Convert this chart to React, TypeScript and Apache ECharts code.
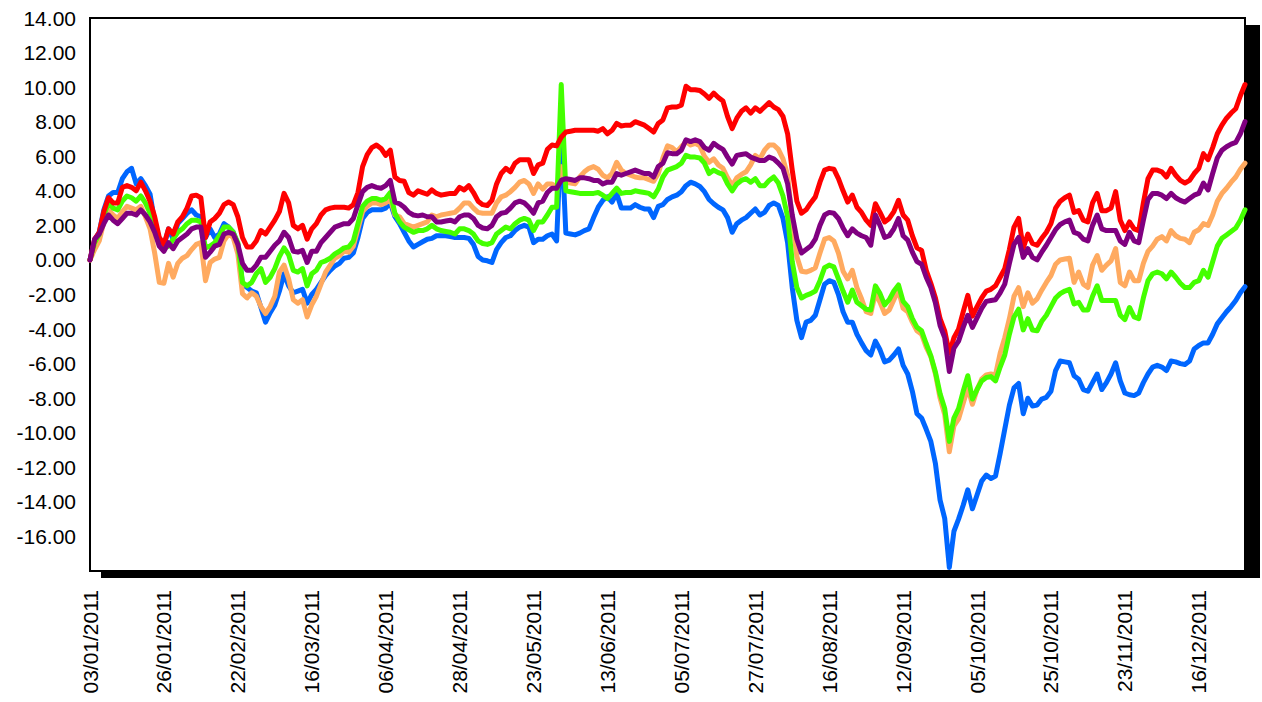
import React, { useEffect, useRef } from "react";
import * as echarts from "echarts";

const categories = [
  "03/01/2011","04/01/2011","05/01/2011","06/01/2011","07/01/2011","10/01/2011","11/01/2011","12/01/2011","13/01/2011","14/01/2011","18/01/2011","19/01/2011","20/01/2011","21/01/2011","24/01/2011","25/01/2011",
  "26/01/2011","27/01/2011","28/01/2011","31/01/2011","01/02/2011","02/02/2011","07/02/2011","08/02/2011","09/02/2011","10/02/2011","11/02/2011","14/02/2011","15/02/2011","16/02/2011","17/02/2011","18/02/2011",
  "22/02/2011","23/02/2011","24/02/2011","25/02/2011","28/02/2011","01/03/2011","02/03/2011","03/03/2011","04/03/2011","07/03/2011","08/03/2011","09/03/2011","10/03/2011","11/03/2011","14/03/2011","15/03/2011",
  "16/03/2011","17/03/2011","18/03/2011","21/03/2011","22/03/2011","23/03/2011","24/03/2011","25/03/2011","28/03/2011","29/03/2011","30/03/2011","31/03/2011","01/04/2011","02/04/2011","04/04/2011","05/04/2011",
  "06/04/2011","07/04/2011","08/04/2011","11/04/2011","12/04/2011","13/04/2011","14/04/2011","15/04/2011","18/04/2011","19/04/2011","20/04/2011","21/04/2011","22/04/2011","25/04/2011","26/04/2011","27/04/2011",
  "28/04/2011","29/04/2011","03/05/2011","04/05/2011","05/05/2011","06/05/2011","09/05/2011","10/05/2011","11/05/2011","12/05/2011","13/05/2011","16/05/2011","17/05/2011","18/05/2011","19/05/2011","20/05/2011",
  "23/05/2011","24/05/2011","25/05/2011","26/05/2011","27/05/2011","28/05/2011","30/05/2011","31/05/2011","01/06/2011","02/06/2011","03/06/2011","06/06/2011","07/06/2011","08/06/2011","09/06/2011","10/06/2011",
  "13/06/2011","14/06/2011","15/06/2011","16/06/2011","17/06/2011","20/06/2011","21/06/2011","22/06/2011","23/06/2011","24/06/2011","27/06/2011","28/06/2011","29/06/2011","30/06/2011","01/07/2011","04/07/2011",
  "05/07/2011","06/07/2011","07/07/2011","08/07/2011","11/07/2011","12/07/2011","13/07/2011","14/07/2011","15/07/2011","18/07/2011","19/07/2011","20/07/2011","21/07/2011","22/07/2011","25/07/2011","26/07/2011",
  "27/07/2011","28/07/2011","29/07/2011","30/07/2011","01/08/2011","02/08/2011","03/08/2011","04/08/2011","05/08/2011","06/08/2011","08/08/2011","09/08/2011","10/08/2011","11/08/2011","12/08/2011","15/08/2011",
  "16/08/2011","17/08/2011","18/08/2011","19/08/2011","22/08/2011","23/08/2011","24/08/2011","25/08/2011","30/08/2011","31/08/2011","01/09/2011","02/09/2011","06/09/2011","07/09/2011","08/09/2011","09/09/2011",
  "12/09/2011","13/09/2011","14/09/2011","15/09/2011","16/09/2011","19/09/2011","20/09/2011","21/09/2011","22/09/2011","23/09/2011","26/09/2011","27/09/2011","28/09/2011","29/09/2011","30/09/2011","04/10/2011",
  "05/10/2011","06/10/2011","07/10/2011","08/10/2011","10/10/2011","11/10/2011","12/10/2011","13/10/2011","14/10/2011","15/10/2011","17/10/2011","18/10/2011","19/10/2011","20/10/2011","21/10/2011","24/10/2011",
  "25/10/2011","26/10/2011","27/10/2011","31/10/2011","01/11/2011","02/11/2011","03/11/2011","07/11/2011","08/11/2011","09/11/2011","10/11/2011","14/11/2011","15/11/2011","16/11/2011","17/11/2011","22/11/2011",
  "23/11/2011","25/11/2011","28/11/2011","29/11/2011","30/11/2011","01/12/2011","02/12/2011","05/12/2011","06/12/2011","07/12/2011","08/12/2011","09/12/2011","12/12/2011","13/12/2011","14/12/2011","15/12/2011",
  "16/12/2011","19/12/2011","20/12/2011","21/12/2011","22/12/2011","23/12/2011","26/12/2011","27/12/2011","28/12/2011","29/12/2011","30/12/2011"
];

const redValues = [
  0,1.2,1.6,2.8,3.6,3.3,3.3,4.2,4.3,4.2,
  4.0,4.5,4.0,3.4,2.5,1.3,0.9,1.8,1.5,2.2,
  2.5,3.0,3.7,3.75,3.6,1.3,2.2,2.4,2.7,3.2,
  3.35,3.2,2.5,1.3,0.75,0.75,1.1,1.7,1.5,1.9,
  2.3,2.8,3.85,3.3,2.0,1.8,2.0,1.2,1.8,2.1,
  2.6,2.9,3.0,3.05,3.05,3.05,3.0,3.2,3.9,5.4,
  6.1,6.5,6.65,6.45,6.05,6.35,4.8,4.6,4.55,3.9,
  3.75,4.0,3.9,3.8,4.05,3.85,3.75,3.8,3.85,3.85,
  4.2,4.05,4.3,3.9,3.4,3.2,3.15,3.45,4.4,5.0,
  5.3,5.1,5.6,5.8,5.8,5.8,5.0,5.5,5.6,6.4,
  6.65,6.6,7.1,7.4,7.45,7.5,7.5,7.5,7.5,7.5,
  7.45,7.6,7.3,7.5,7.9,7.75,7.8,7.8,8.0,7.9,
  7.8,7.6,7.4,7.9,8.1,8.8,8.85,8.85,8.95,10.05,
  9.85,9.85,9.8,9.6,9.35,9.65,9.4,9.2,8.3,7.6,
  8.2,8.6,8.8,8.5,8.8,8.6,8.85,9.1,8.85,8.7,
  8.3,7.3,5.2,3.4,2.7,2.9,3.3,3.65,4.5,5.2,
  5.3,5.25,4.7,4.0,3.35,3.75,3.05,2.75,2.3,2.0,
  3.25,2.75,2.2,2.4,2.8,3.45,2.6,2.3,1.4,0.7,
  0.55,-0.6,-1.35,-2.2,-3.4,-4.1,-5.4,-4.5,-4.0,-3.0,
  -2.05,-3.25,-2.7,-2.2,-1.8,-1.7,-1.5,-1.0,-0.5,0.6,
  1.9,2.4,0.7,1.5,0.95,0.85,1.25,1.6,2.1,3.0,
  3.4,3.6,3.75,2.75,2.85,2.3,2.2,3.3,3.85,2.85,
  2.85,3.0,3.95,2.3,1.7,2.2,1.8,1.7,3.3,4.7,
  5.2,5.2,5.1,4.8,5.3,4.9,4.6,4.45,4.6,5.0,
  5.3,6.15,5.8,6.5,7.3,7.8,8.2,8.5,8.75,9.5,
  10.15
];

const purpleValues = [
  0,1.2,1.5,2.1,2.6,2.3,2.1,2.4,2.7,2.7,
  2.6,2.9,2.6,2.2,1.6,0.8,0.5,1.0,0.65,1.1,
  1.3,1.5,1.8,1.9,1.9,0.15,0.45,0.8,0.9,1.5,
  1.6,1.5,0.9,-0.2,-0.6,-0.6,-0.3,0.15,0.15,0.5,
  0.85,1.1,1.6,1.3,0.5,0.45,0.55,-0.15,0.5,0.5,
  1.0,1.3,1.6,1.9,2.0,2.1,2.1,2.4,3.2,3.95,
  4.2,4.3,4.2,4.15,4.3,4.6,3.35,3.25,3.05,2.75,
  2.6,2.55,2.6,2.5,2.5,2.2,2.2,2.25,2.3,2.2,
  2.5,2.6,2.6,2.4,2.0,1.85,1.8,2.0,2.5,2.7,
  2.75,3.0,3.3,3.4,3.3,3.05,2.7,3.3,3.4,3.9,
  4.15,4.15,4.6,4.7,4.65,4.6,4.75,4.75,4.7,4.6,
  4.6,4.4,4.5,4.5,5.0,4.9,5.0,5.1,5.2,5.1,
  5.0,5.0,4.8,5.4,5.6,6.2,6.15,6.15,6.35,6.95,
  6.85,6.95,6.85,6.5,6.35,6.75,6.55,6.4,5.95,5.55,
  6.05,6.1,6.15,5.95,5.85,5.75,5.75,5.95,5.85,5.6,
  5.3,4.4,2.6,1.2,0.4,0.6,0.8,1.2,2.0,2.6,
  2.75,2.7,2.4,1.85,1.4,1.8,1.55,1.4,1.3,0.85,
  2.6,2.0,1.3,1.4,1.8,2.4,1.4,1.15,0.45,-0.1,
  -0.25,-1.0,-1.6,-2.5,-3.8,-4.5,-6.45,-5.1,-4.7,-3.9,
  -3.2,-3.9,-3.35,-2.8,-2.4,-2.35,-2.3,-1.9,-1.4,-0.2,
  0.9,1.3,0.15,0.65,0.15,0.0,0.45,0.85,1.3,1.75,
  2.05,2.2,2.3,1.6,1.5,1.2,1.1,2.0,2.6,1.8,
  1.7,1.7,1.7,1.1,0.9,1.6,1.1,1.0,2.3,3.5,
  3.85,3.85,3.75,3.55,3.85,3.6,3.45,3.35,3.55,3.75,
  3.85,4.45,4.05,5.0,5.9,6.35,6.55,6.7,6.8,7.3,
  8.0
];

const orangeValues = [
  0,0.6,1.1,2.2,2.9,2.6,2.4,2.8,3.1,3.0,
  2.9,3.1,2.5,1.8,0.4,-1.3,-1.35,-0.2,-1.0,-0.2,
  0.1,0.25,0.6,0.9,1.0,-1.2,-0.15,0.05,0.15,1.1,
  1.5,1.3,0.35,-1.95,-2.2,-1.9,-2.1,-2.7,-3.1,-2.7,
  -2.1,-0.7,-0.3,-1.1,-2.3,-2.5,-2.3,-3.3,-2.6,-2.1,
  -1.4,-0.7,-0.3,0.1,0.25,0.5,0.45,0.8,1.8,2.8,
  3.1,3.3,3.3,3.2,3.3,3.55,2.6,2.5,2.1,2.0,
  1.9,2.0,2.1,2.2,2.6,2.5,2.6,2.65,2.7,2.75,
  3.0,3.3,3.3,3.0,2.75,2.7,2.7,2.7,3.3,3.65,
  3.75,3.95,4.2,4.5,4.6,4.4,3.85,4.4,4.1,4.4,
  4.4,4.2,5.4,4.5,4.45,4.4,4.8,5.1,5.3,5.4,
  5.25,4.9,4.75,5.0,5.65,5.2,5.0,4.9,4.8,4.75,
  4.75,4.65,4.55,5.0,5.9,6.6,6.5,6.25,6.55,6.85,
  6.65,6.75,6.6,6.0,5.65,5.85,5.5,5.3,4.75,4.3,
  4.75,4.95,5.1,5.5,6.05,5.85,6.35,6.65,6.65,6.4,
  5.85,4.9,2.4,0.2,-0.65,-0.7,-0.6,-0.45,0.4,1.2,
  1.3,1.1,0.4,-0.65,-1.1,-0.6,-1.6,-2.25,-3.0,-3.1,
  -1.95,-2.45,-3.1,-2.9,-2.3,-1.75,-2.8,-3.0,-3.6,-4.1,
  -4.3,-5.05,-5.6,-6.6,-8.0,-8.95,-11.1,-9.6,-9.2,-8.3,
  -7.4,-8.35,-7.5,-6.9,-6.65,-6.6,-6.65,-5.4,-4.5,-3.4,
  -2.1,-1.6,-2.7,-1.9,-2.5,-2.25,-1.75,-1.3,-0.9,-0.25,
  0.0,0.05,0.1,-1.3,-0.7,-1.4,-1.6,-0.3,0.25,-0.6,
  -0.3,-0.05,0.65,-1.3,-1.5,-0.7,-1.2,-1.2,-0.2,0.5,
  0.8,1.2,1.35,1.1,1.7,1.4,1.25,1.2,1.0,1.6,
  1.75,2.1,2.0,2.6,3.4,3.85,4.15,4.5,4.8,5.25,
  5.6
];

const greenValues = [
  0,1.0,1.5,2.6,3.3,3.0,2.9,3.4,3.7,3.6,
  3.4,3.7,3.3,2.7,2.0,1.1,0.7,0.8,1.2,1.6,
  1.8,2.1,2.3,2.3,2.2,0.7,0.8,1.0,1.4,1.9,
  1.9,1.6,1.0,-1.3,-1.5,-1.3,-0.8,-0.5,-1.3,-1.0,
  -0.5,0.2,0.7,0.3,-0.6,-0.7,-0.5,-1.5,-0.8,-0.6,
  -0.15,-0.05,0.1,0.35,0.5,0.7,0.75,1.1,2.1,3.1,
  3.4,3.55,3.55,3.45,3.55,3.9,2.7,2.2,1.9,1.75,
  1.6,1.7,1.7,1.8,2.0,1.8,1.7,1.65,1.6,1.5,
  1.8,1.8,1.7,1.5,1.1,0.95,0.9,1.0,1.5,1.7,
  1.9,1.8,2.1,2.3,2.4,2.3,1.7,2.2,2.2,2.6,
  3.05,3.05,10.15,4.0,3.95,3.9,3.85,3.85,3.85,3.85,
  3.9,3.75,3.55,3.85,4.15,3.85,3.9,3.9,4.0,3.95,
  3.9,3.85,3.65,4.1,4.8,5.2,5.3,5.4,5.6,6.05,
  5.95,5.95,5.9,5.6,5.0,5.2,5.05,4.95,4.4,4.0,
  4.4,4.6,4.7,4.5,4.7,4.3,4.3,4.6,4.8,4.45,
  3.7,2.5,-0.1,-1.6,-2.2,-2.05,-1.95,-1.8,-1.2,-0.45,
  -0.3,-0.4,-1.1,-1.8,-2.45,-1.75,-2.45,-2.65,-2.85,-2.9,
  -1.5,-1.95,-2.6,-2.3,-1.8,-1.45,-2.4,-2.7,-3.4,-3.9,
  -4.1,-4.85,-5.55,-6.5,-7.75,-8.6,-10.5,-9.15,-8.6,-7.6,
  -6.7,-8.05,-7.5,-7.0,-6.8,-6.75,-7.0,-6.2,-5.5,-4.3,
  -3.3,-2.85,-4.05,-3.4,-4.05,-4.1,-3.55,-3.2,-2.7,-2.2,
  -1.95,-1.8,-1.7,-2.55,-2.45,-2.9,-2.9,-2.1,-1.5,-2.35,
  -2.35,-2.35,-2.35,-3.2,-3.45,-2.75,-3.3,-3.4,-2.2,-1.2,
  -0.8,-0.7,-0.8,-1.1,-0.7,-1.0,-1.35,-1.6,-1.6,-1.3,
  -1.2,-0.6,-1.0,-0.1,0.8,1.25,1.45,1.65,1.85,2.3,
  2.9
];

const blueValues = [
  0,1.1,1.6,2.9,3.7,3.9,3.9,4.7,5.1,5.3,
  4.4,4.7,4.3,3.8,2.2,1.2,0.8,1.8,1.2,2.1,
  2.4,2.7,2.9,2.6,2.5,1.3,1.8,1.3,1.5,2.1,
  1.9,1.6,0.9,-1.4,-1.6,-1.8,-1.9,-2.75,-3.6,-3.05,
  -2.6,-1.8,-0.8,-1.5,-1.9,-1.8,-1.7,-2.5,-2.0,-1.7,
  -1.3,-0.9,-0.6,-0.35,-0.2,0.1,0.15,0.4,1.3,2.4,
  2.75,2.9,2.9,2.9,3.0,3.3,2.5,2.1,1.6,1.1,
  0.75,0.9,1.05,1.2,1.25,1.4,1.4,1.4,1.35,1.3,
  1.3,1.3,1.25,0.9,0.2,0.0,-0.05,-0.15,0.6,1.0,
  1.3,1.4,1.7,1.9,2.0,1.9,1.0,1.2,1.2,1.4,
  1.5,1.1,7.5,1.55,1.5,1.45,1.55,1.7,1.8,2.45,
  3.05,3.45,3.65,3.35,3.85,3.0,3.0,3.0,3.2,3.05,
  2.95,2.95,2.45,3.1,3.2,3.5,3.65,3.75,3.95,4.3,
  4.5,4.4,4.25,3.95,3.5,3.25,3.05,2.9,2.45,1.6,
  2.1,2.3,2.45,2.7,2.95,2.6,2.75,3.15,3.3,3.15,
  2.4,1.0,-1.6,-3.5,-4.5,-3.6,-3.5,-3.2,-2.3,-1.4,
  -1.2,-1.3,-2.0,-3.0,-3.6,-3.6,-4.3,-4.8,-5.25,-5.5,
  -4.7,-5.2,-5.9,-5.8,-5.5,-5.15,-6.1,-6.6,-7.6,-8.9,
  -9.15,-9.8,-10.5,-11.8,-13.9,-14.95,-17.8,-15.7,-15.0,-14.2,
  -13.3,-14.4,-13.6,-12.8,-12.45,-12.65,-12.5,-11.2,-9.8,-8.4,
  -7.4,-7.15,-8.9,-8.0,-8.45,-8.4,-8.05,-7.95,-7.6,-6.4,
  -5.85,-5.9,-5.95,-6.7,-6.9,-7.5,-7.6,-7.1,-6.6,-7.5,
  -7.1,-6.6,-5.95,-7.0,-7.7,-7.8,-7.85,-7.7,-7.1,-6.6,
  -6.2,-6.1,-6.2,-6.4,-5.85,-5.9,-6.0,-6.05,-5.85,-5.15,
  -4.95,-4.8,-4.8,-4.3,-3.7,-3.35,-3.0,-2.7,-2.35,-1.9,
  -1.55
];

const FONT = "'Liberation Sans', Arial, sans-serif";

function lineSeries(name: string, data: number[], color: string) {
  return {
    name,
    type: "line",
    data,
    showSymbol: false,
    symbol: "none",
    smooth: false,
    lineStyle: { color, width: 5, join: "round", cap: "round" },
    itemStyle: { color },
    emphasis: { disabled: true },
  };
}

export default function App() {
  const ref = useRef<HTMLDivElement>(null);
  useEffect(() => {
    document.body.style.margin = "0";
    const chart = echarts.init(ref.current!, null, { renderer: "svg" });
    chart.setOption({
      animation: false,
      backgroundColor: "#fff",
      grid: {
        left: 90,
        top: 18,
        width: 1155,
        height: 553,
        show: true,
        borderColor: "#000",
        borderWidth: 2,
        backgroundColor: "#fff",
      },
      graphic: [
        { type: "rect", shape: { x: 1246, y: 25, width: 14, height: 553 }, style: { fill: "#000" }, silent: true },
        { type: "rect", shape: { x: 101, y: 571, width: 1159, height: 7 }, style: { fill: "#000" }, silent: true },
      ],
      xAxis: {
        type: "category",
        data: categories,
        boundaryGap: false,
        axisLine: { show: false },
        axisTick: { show: false },
        splitLine: { show: false },
        axisLabel: {
          interval: 15,
          rotate: 90,
          fontSize: 21,
          color: "#000",
          margin: 19,
          fontFamily: FONT,
        },
      },
      yAxis: {
        type: "value",
        min: -18,
        max: 14,
        interval: 2,
        axisLine: { show: false },
        axisTick: { show: false },
        splitLine: { show: false },
        axisLabel: {
          formatter: (v: number) => v.toFixed(2),
          fontSize: 21,
          color: "#000",
          margin: 14,
          fontFamily: FONT,
          showMinLabel: false,
        },
      },
      series: [
        lineSeries("Blue", blueValues, "#0066FF"),
        lineSeries("Orange", orangeValues, "#FFAA60"),
        lineSeries("Green", greenValues, "#44FF00"),
        lineSeries("Red", redValues, "#FF0000"),
        lineSeries("Purple", purpleValues, "#800080"),
      ],
    });
    return () => chart.dispose();
  }, []);
  return <div ref={ref} style={{ width: 1262, height: 702 }} />;
}
